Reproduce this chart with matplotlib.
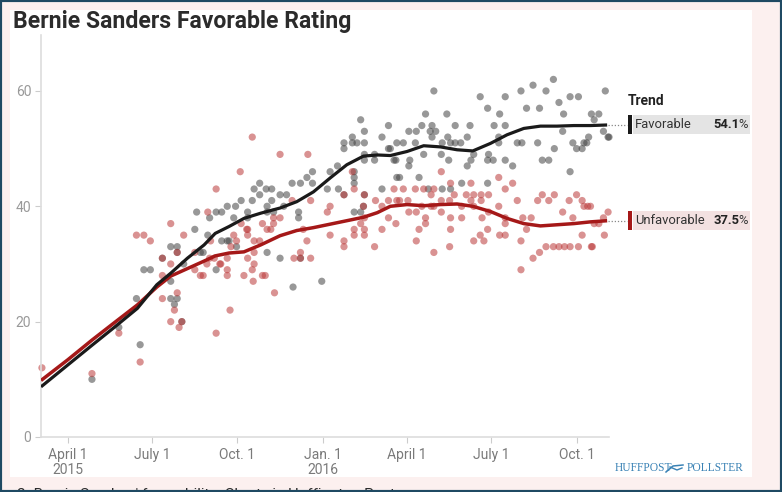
import numpy as np
import matplotlib
matplotlib.use("Agg")
import matplotlib.pyplot as plt
from matplotlib import font_manager
from matplotlib.patches import Rectangle
from matplotlib.lines import Line2D
from matplotlib.transforms import blended_transform_factory

# ---------------- data ----------------
base_date = "2015-04-01"   # day offsets below are counted from this date

fav_days = [26, 55, 78, 74, 82, 89, 102, 111, 118, 118, 111, 111, 118, 115, 123, 125, 137, 139, 146,
            153, 151, 160, 166, 160, 166, 172, 174,
            181, 187, 201, 207, 214, 220, 199, 194, 194, 179, 207, 220, 229, 236, 242, 251, 258,
            264, 264, 249, 249, 233, 215, 222, 215, 280, 283, 291, 292, 298, 298, 307, 312, 320,
            307, 316, 320, 320, 331, 320, 331, 339, 346, 346, 352, 309, 309, 309, 339, 309, 316,
            355, 229, 215, 243, 274, 182, 172, 143, 298, 320, 319, 251,
            395, 445, 472, 489, 502, 524, 516, 530, 542, 551, 580, 453, 466, 509, 495, 535, 565,
            573, 568, 386, 409, 382, 393, 418, 434, 460, 472, 368, 376, 391, 397, 534, 578,
            393, 410, 431, 465, 583, 562, 355, 362, 375, 404, 413, 418, 424, 465, 485, 490, 507,
            545, 557, 384, 403, 438, 454, 525, 549, 555, 348, 354, 369, 411, 435, 453, 459, 472,
            512, 519, 368, 431, 480, 542, 358, 379, 389, 413, 453, 425, 404, 584, 560]
fav_vals = [10, 19, 16, 24, 29, 29, 31, 33, 33, 32, 27, 24, 24, 23, 20, 30, 36, 39, 32,
            38, 35, 39, 39, 29, 34, 40, 34,
            40, 41, 43, 44, 43, 43, 41, 39, 38, 38, 42, 41, 42, 42, 44, 44, 45,
            46, 44, 39, 38, 40, 39, 39, 40, 43, 46, 47, 43, 51, 50, 51, 51, 51,
            52, 55, 53, 49, 49, 48, 48, 52, 54, 50, 48, 46, 45, 44, 43, 39, 39,
            45, 31, 32, 26, 27, 33, 34, 32, 42, 42, 40, 31,
            60, 59, 59, 60, 61, 62, 60, 58, 59, 59, 60, 57, 56, 57, 57, 56, 56,
            56, 55, 56, 56, 54, 54, 54, 54, 54, 54, 53, 53, 53, 53, 53, 53,
            52, 52, 52, 52, 52, 52, 51, 51, 51, 51, 51, 51, 51, 51, 51, 51, 51,
            51, 51, 49, 49, 49, 49, 50, 50, 50, 50, 48, 48, 48, 48, 48, 48, 48,
            48, 48, 47, 47, 47, 46, 45, 45, 43, 43, 44, 44, 43, 52, 51]

unfav_days = [-28, 26, 55, 78, 74, 82, 89, 102, 102, 102, 111, 111, 115, 118, 111, 120, 123, 118, 125,
              137, 137, 146, 151, 154, 160, 158, 165, 160, 172, 172, 175,
              199, 229, 259, 186, 307, 309, 298, 320, 319, 332, 339, 352, 346, 355, 346, 339, 354,
              331, 320, 320, 320, 316, 309, 309, 298, 298, 283, 280, 283, 258, 242, 262, 254, 244,
              251, 262, 251, 229, 222, 222, 219, 210, 215, 207, 201, 201, 201, 199, 194, 194, 194,
              190, 200, 210, 213, 223, 176, 179, 182, 164, 172, 150, 153, 143, 187, 193,
              403, 465, 435, 480, 413, 384, 362, 375, 395, 472, 392, 417, 430, 438, 446, 454, 512,
              525, 549, 358, 367, 403, 412, 435, 446, 485, 507, 519, 541, 555, 561, 564, 382, 392,
              395, 425, 438, 465, 368, 376, 403, 454, 534, 583, 578, 386, 413, 425, 447, 472, 491,
              500, 545, 386, 472, 568, 573, 379, 413, 453, 495, 555, 579, 445, 466, 472, 376, 438,
              449, 489, 516, 524, 530, 536, 542, 551, 565, 412, 395, 509, 502, 489, 557, 566]
unfav_vals = [12, 11, 18, 13, 35, 35, 34, 31, 28, 24, 37, 30, 22, 25, 20, 19, 20, 32, 35,
              32, 29, 28, 39, 34, 43, 31, 30, 18, 29, 28, 22,
              52, 49, 49, 46, 46, 43, 42, 42, 40, 41, 40, 43, 41, 41, 38, 36, 37,
              33, 38, 36, 35, 37, 36, 35, 34, 33, 40, 39, 35, 34, 41, 41, 36, 31,
              31, 31, 32, 38, 38, 37, 36, 37, 36, 34, 34, 32, 30, 29, 35, 36, 31,
              28, 27, 28, 28, 25, 33, 35, 34, 30, 31, 30, 31, 28, 37, 36,
              46, 45, 44, 44, 44, 43, 43, 43, 43, 43, 42, 42, 42, 42, 42, 42, 42,
              42, 42, 41, 41, 41, 41, 41, 41, 41, 41, 41, 41, 41, 40, 40, 40, 40,
              40, 40, 40, 40, 39, 39, 39, 39, 39, 39, 38, 38, 38, 38, 38, 38, 38,
              38, 38, 37, 37, 37, 37, 36, 36, 36, 36, 35, 35, 35, 35, 35, 34, 34,
              34, 34, 33, 33, 33, 33, 33, 33, 33, 33, 32, 32, 31, 29, 40, 33]

trend_days = [-29, 0, 26, 50, 75, 96, 111, 129, 147, 159, 174, 190, 208, 229, 247, 265, 283,
              301, 319, 334, 348, 366, 384, 402, 420, 437, 456, 474, 492, 510, 528, 546, 564, 582]
fav_trend = [8.7, 12.5, 15.9, 19.0, 22.3, 26.4, 28.4, 31.0, 33.3, 35.3, 36.5, 37.9, 38.8, 39.7,
             40.8, 42.5, 44.9, 47.2, 48.7, 48.9, 48.8, 49.5, 50.5, 50.3, 49.8, 49.6, 50.9, 52.4,
             53.5, 53.9, 53.9, 54.0, 54.0, 54.1]
unfav_trend = [9.8, 13.4, 16.8, 19.8, 22.9, 26.0, 27.9, 29.2, 30.5, 31.4, 31.9, 32.1, 33.3, 34.9,
               35.8, 36.3, 36.9, 37.5, 38.1, 38.9, 40.0, 40.3, 40.1, 40.3, 40.4, 40.0, 39.1, 37.9,
               37.0, 36.6, 36.8, 37.0, 37.3, 37.5]

tick_dates = ["2015-04-01", "2015-07-01", "2015-10-01", "2016-01-01", "2016-04-01", "2016-07-01", "2016-10-01"]
tick_labels = ["April 1\n2015", "July 1", "Oct. 1", "Jan. 1\n2016", "April 1", "July 1", "Oct. 1"]
y_ticks = [0, 20, 40, 60]
legend_names = ["Favorable", "Unfavorable"]
legend_values = ["54.1", "37.5"]
title = "Bernie Sanders Favorable Rating"

# ---------------- fonts ----------------
avail = {f.name for f in font_manager.fontManager.ttflist}
SANS = "Liberation Sans Narrow" if "Liberation Sans Narrow" in avail else "Roboto"
plt.rcParams["font.family"] = [SANS, "DejaVu Sans"]

W, H = 782, 492
fig = plt.figure(figsize=(W / 100, H / 100), dpi=100)
fig.patch.set_facecolor("#fcf0ef")

def fx(px):
    return px / W

def fy(py):
    return 1 - py / H

# white panel and outer border
fig.patches.append(Rectangle((fx(10), fy(477)), fx(752) - fx(10), fy(10) - fy(477),
                             transform=fig.transFigure, facecolor="white", edgecolor="none", zorder=-5))
fig.patches.append(Rectangle((0, 0), 1, 1, transform=fig.transFigure, facecolor="none",
                             edgecolor="#1f4a63", linewidth=3, zorder=10))

ax = fig.add_axes([fx(41), fy(437), fx(609) - fx(41), fy(35) - fy(437)])
ax.set_facecolor("none")
ax.set_zorder(1)

b = np.datetime64(base_date)
def to_dates(days):
    return (b + np.array(days, dtype="timedelta64[D]")).astype("datetime64[D]").astype(object)

ax.scatter(to_dates(fav_days), fav_vals, s=27, color="#444444", alpha=0.55, edgecolors="none",
           zorder=2, clip_on=False)
ax.scatter(to_dates(unfav_days), unfav_vals, s=27, color="#bb3939", alpha=0.55, edgecolors="none",
           zorder=2, clip_on=False)
ax.plot(to_dates(trend_days), fav_trend, color="#1a1a1a", lw=2.3, zorder=4, solid_capstyle="butt")
ax.plot(to_dates(trend_days), unfav_trend, color="#a51818", lw=2.5, zorder=3, solid_capstyle="butt")

ax.set_xlim(np.datetime64("2015-03-03").astype(object), np.datetime64("2016-11-05").astype(object))
ax.set_ylim(0, 69.7)
ax.set_xticks([np.datetime64(d).astype(object) for d in tick_dates])
ax.set_xticklabels(tick_labels, fontsize=10, color="#7a7a7a", linespacing=1.05)
ax.set_yticks(y_ticks)
ax.set_yticklabels([str(v) for v in y_ticks], fontsize=10, color="#999999")
ax.tick_params(axis="x", length=4, color="#cccccc", pad=4)
ax.tick_params(axis="y", length=4, color="#cccccc", pad=3)
for s in ["top", "right"]:
    ax.spines[s].set_visible(False)
for s in ["left", "bottom"]:
    ax.spines[s].set_color("#dddddd")
    ax.spines[s].set_linewidth(1.2)

# title
fig.text(fx(13), fy(10), title, fontsize=16.6, fontweight="bold", color="#2b2b2b", va="top", ha="left")

# legend / trend labels
tr = blended_transform_factory(fig.transFigure, ax.transData)
fig.text(fx(628), fy(101), "Trend", fontsize=10, fontweight="bold", color="#222222", va="center")
box_colors = ["#e4e4e4", "#f3e1e1"]
bar_colors = ["#1a1a1a", "#a51818"]
end_vals = [fav_trend[-1], unfav_trend[-1]]
bh = 19 / 5.767
pct_texts = []
for name, val, yv, bc, barc in zip(legend_names, legend_values, end_vals, box_colors, bar_colors):
    ax.add_line(Line2D([fx(608), fx(627)], [yv, yv], transform=tr, color="#888888", lw=0.9,
                       linestyle=(0, (1, 1.5)), clip_on=False))
    ax.add_patch(Rectangle((fx(633), yv - bh / 2), fx(750) - fx(633), bh, transform=tr,
                           facecolor=bc, edgecolor="none", clip_on=False))
    ax.add_patch(Rectangle((fx(628), yv - bh / 2), fx(632) - fx(628), bh, transform=tr,
                           facecolor=barc, edgecolor="none", clip_on=False))
    ax.text(fx(635), yv, name, transform=tr, fontsize=9.4, color="#333333", va="center", ha="left")
    p = ax.text(fx(748), yv, "%", transform=tr, fontsize=9.4, color="#333333", va="center", ha="right")
    pct_texts.append((p, val, yv))

fig.canvas.draw()
r = fig.canvas.get_renderer()
for p, val, yv in pct_texts:
    ext = p.get_window_extent(r)
    ax.text(ext.x0 / W + 0.0015, yv, val, transform=tr, fontsize=9.4, fontweight="bold", color="#222222",
            va="center", ha="right")

# HuffPost Pollster mark
fig.text(fx(615), fy(468), "HUFFPOST", family="Liberation Serif", fontsize=8.3, color="#3a82b5", va="center")
fig.text(fx(687), fy(468), "POLLSTER", family="Liberation Serif", fontsize=8.3, color="#3a82b5", va="center")
fig.lines.append(Line2D([fx(666), fx(673), fx(683)], [fy(472), fy(466), fy(465)], transform=fig.transFigure,
                        color="#3a82b5", lw=1.1))
fig.lines.append(Line2D([fx(670), fx(677), fx(682)], [fy(467), fy(470), fy(468)], transform=fig.transFigure,
                        color="#3a82b5", lw=1.0))

# clipped caption at the very bottom (cut off in the source image too)
fig.text(fx(17), fy(488), "2. Bernie Sanders' favorability. Chart via Huffington Post.", fontsize=11,
         color="#2b2b2b", va="top", ha="left")

fig.savefig("out.png", dpi=100, facecolor=fig.get_facecolor())
